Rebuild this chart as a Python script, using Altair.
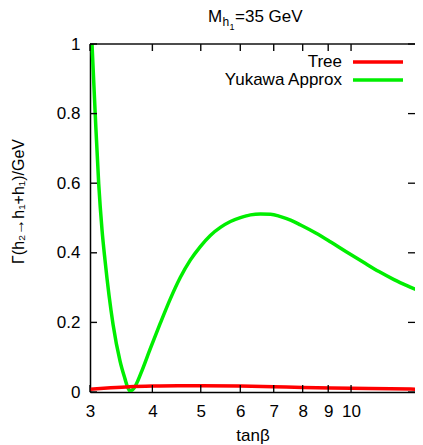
import altair as alt
import pandas as pd

# ---- data ----
tanb_tree = [3.0, 3.3, 3.6, 4.0, 4.5, 5.0, 6.0, 7.0, 8.0, 10.0, 12.0, 14.0]
gamma_tree = [0.008, 0.012, 0.015, 0.017, 0.018, 0.018, 0.017, 0.015, 0.013, 0.011, 0.009, 0.008]

tanb_yuk = [3.0, 3.028, 3.073, 3.123, 3.171, 3.215, 3.336, 3.446, 3.527, 3.568, 3.605,
            3.677, 3.746, 3.816, 3.960, 4.147, 4.343, 4.549, 4.764, 4.990, 5.226, 5.474,
            5.733, 6.004, 6.288, 6.586, 6.897, 7.224, 7.566, 7.924, 8.496, 9.107, 9.761,
            10.611, 11.374, 12.190, 13.065, 14.0]
gamma_yuk = [1.126, 1.0, 0.799, 0.598, 0.466, 0.379, 0.195, 0.089, 0.037, 0.014, 0.003,
             0.0115, 0.0345, 0.063, 0.124, 0.197, 0.267, 0.329, 0.379, 0.418, 0.450, 0.473,
             0.490, 0.501, 0.509, 0.5115, 0.511, 0.504, 0.494, 0.480, 0.457, 0.431, 0.404,
             0.372, 0.346, 0.323, 0.303, 0.2845]

x_ticks = [3, 4, 5, 6, 7, 8, 9, 10]
y_ticks = [0, 0.2, 0.4, 0.6, 0.8, 1.0]
x_domain = [3, 13.43]
series_names = ["Tree", "Yukawa Approx"]
series_colors = ["#ff0000", "#00ee00"]

W, H = 325, 348
FONT = "Liberation Sans"
FS = 17
TICK = 7

xscale = alt.Scale(type="log", domain=x_domain, nice=False)
yscale = alt.Scale(domain=[0, 1], nice=False, zero=False)

df_tree = pd.DataFrame({"tanb": tanb_tree, "gamma": gamma_tree})
df_yuk = pd.DataFrame({"tanb": tanb_yuk, "gamma": gamma_yuk})
df_xt = pd.DataFrame({"tanb": x_ticks})
df_yt = pd.DataFrame({"gamma": y_ticks})
one = pd.DataFrame({"k": [0]})

x_axis = alt.Axis(values=x_ticks, format="~g", labelPadding=11, labelFlush=False,
                  title="tanβ", titlePadding=8)
y_axis = alt.Axis(values=y_ticks, format="~g", labelPadding=10,
                  title="Γ(h₂→h₁+h₁)/GeV", titleFontSize=16, titleAngle=270,
                  titleX=-72, titleY=157, titleAlign="center", titleBaseline="middle")

yuk_line = alt.Chart(df_yuk).mark_line(color=series_colors[1], strokeWidth=3.5, clip=True,
                                       interpolate="monotone").encode(
    x=alt.X("tanb:Q", scale=xscale, axis=x_axis),
    y=alt.Y("gamma:Q", scale=yscale, axis=y_axis),
)
tree_line = alt.Chart(df_tree).mark_line(color=series_colors[0], strokeWidth=3.5, clip=True,
                                         interpolate="monotone").encode(
    x=alt.X("tanb:Q", scale=xscale),
    y=alt.Y("gamma:Q", scale=yscale),
)


def label(text, x, y, size=FS, align="left", baseline="alphabetic"):
    return alt.Chart(one).mark_text(text=text, font=FONT, fontSize=size, align=align,
                                    baseline=baseline, color="black").encode(
        x=alt.value(x), y=alt.value(y))


# title  M_{h_1}=35 GeV
title_layers = [
    label("M", 118, -22),
    label("h", 132.5, -18, size=12),
    label("1", 139.5, -14.5, size=9),
    label("=35 GeV", 145, -22),
]

# legend (text right-aligned, line sample to its right)
legend_layers = []
for i, (name, col) in enumerate(zip(series_names, series_colors)):
    yy = 18 + 18 * i
    legend_layers.append(label(name, 252, yy, align="right", baseline="middle"))
    legend_layers.append(alt.Chart(one).mark_rule(color=col, strokeWidth=3.5).encode(
        x=alt.value(263), x2=alt.value(313), y=alt.value(yy)))

# frame: top border and inward, mirrored ticks (gnuplot style)
top_border = alt.Chart(one).mark_rect(color="#111111").encode(
    x=alt.value(0), x2=alt.value(W), y=alt.value(-0.75), y2=alt.value(0.75))
bot_ticks = alt.Chart(df_xt).mark_rule(color="#000000", strokeWidth=1.3).encode(
    x=alt.X("tanb:Q", scale=xscale), y=alt.value(H), y2=alt.value(H - TICK))
top_ticks = alt.Chart(df_xt).mark_rule(color="#0a0a0a", strokeWidth=1.4).encode(
    x=alt.X("tanb:Q", scale=xscale), y=alt.value(0), y2=alt.value(TICK))
left_ticks = alt.Chart(df_yt).mark_rule(color="#050505", strokeWidth=1.4).encode(
    y=alt.Y("gamma:Q", scale=yscale), x=alt.value(0), x2=alt.value(TICK))
right_ticks = alt.Chart(df_yt).mark_rule(color="#000000", strokeWidth=1.3).encode(
    y=alt.Y("gamma:Q", scale=yscale), x=alt.value(W - TICK), x2=alt.value(W))

chart = alt.layer(
    yuk_line, tree_line, *title_layers, *legend_layers,
    top_border, bot_ticks, top_ticks, left_ticks, right_ticks,
).properties(
    width=W, height=H,
    autosize=alt.AutoSizeParams(type="none"),
    padding={"left": 82, "top": 36, "right": 0, "bottom": 53},
    background="white",
).configure_view(
    strokeWidth=0
).configure_axis(
    tickSize=0, grid=False, domainColor="black", domainWidth=1.5,
    labelFont=FONT, labelFontSize=FS, labelColor="black",
    titleFont=FONT, titleFontSize=FS, titleFontWeight="normal", titleColor="black",
)

chart.save("out.html", embed_options={"renderer": "svg", "actions": False})
